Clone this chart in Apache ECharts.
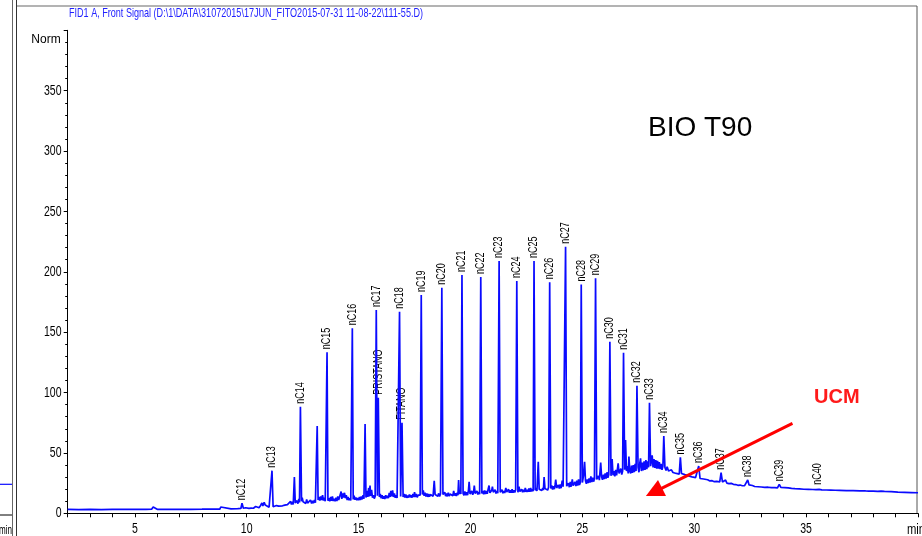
<!DOCTYPE html>
<html>
<head>
<meta charset="utf-8">
<script src="https://cdn.jsdelivr.net/npm/echarts@6/dist/echarts.min.js"></script>
<style>
html, body { margin: 0; padding: 0; background: #ffffff; }
#chart { width: 922px; height: 536px; }
</style>
</head>
<body>
<div id="chart"></div>
<script>
// Identified peaks: name, retention time (min), height (Norm)
const peakNames = ['nC12','nC13','nC14','nC15','nC16','nC17','PRISTANO','nC18','FITANO','nC19','nC20','nC21','nC22','nC23','nC24','nC25','nC26','nC27','nC28','nC29','nC30','nC31','nC32','nC33','nC34','nC35','nC36','nC37','nC38','nC39','nC40'];
const peakTimes = [9.79,11.13,12.40,13.59,14.72,15.79,15.88,16.83,16.94,17.80,18.72,19.62,20.46,21.28,22.07,22.84,23.54,24.25,24.95,25.59,26.23,26.84,27.44,28.00,28.64,29.38,30.20,31.20,32.39,33.80,35.51];
const peakHeights = [8.3,35.3,88.3,133.3,153.2,168.4,95.7,167,75,180.8,186.8,197.4,195.7,209,192.4,209,191.3,220.8,189.5,194.7,142.1,133,105.7,91.6,64,46.3,39.2,33.6,27.6,24,21.2];

// Detector signal before the alkane envelope: [time (min), Norm]
const signalEarly = [
  [2,3.2],[2.5,3.1],[3,3.2],[3.5,3.1],[4,3.3],[4.5,3.2],[5,3.2],[5.5,3.3],[5.75,3.4],[5.82,5.2],[5.88,3.6],[6,3.3],
  [6.5,3.2],[7,3.3],[7.5,3.3],[8,3.4],[8.3,3.5],[8.36,4.6],[8.42,3.5],[8.8,3.5],[8.84,5.2],[8.9,3.6],[9.3,3.6],[9.6,3.8],
  [9.74,4.0],[9.85,4.2],[9.95,4.6],[10.0,4.0],[10.1,4.1],[10.2,4.3],[10.3,4.2],[10.4,5.6],[10.45,4.4],[10.55,4.6],
  [10.62,6.5],[10.68,8.6],[10.72,6.0],[10.78,9.2],[10.83,6.8],[10.9,5.2],[11.0,5.0],[11.07,5.2],[11.18,5.4],[11.25,5.3],
  [11.33,6.4],[11.38,8.0],[11.43,6.0],[11.5,5.6],[11.6,6.2],[11.7,6.8],[11.75,6.0],[11.82,7.2],[11.9,6.6],[11.96,9.8]
];

// Detector signal across the resolved alkanes and the hump
const signalMain = [
  [12.0,7.2],[12.04,9.5],[12.08,7.4],[12.13,30],[12.17,8.6],[12.21,7.2],[12.25,10.5],[12.29,8],[12.33,12],[12.36,9],
  [12.45,10],[12.48,13],[12.52,9.5],[12.56,8],[12.6,10.5],[12.64,8.2],[12.68,11.5],[12.72,8.4],[12.76,10],[12.8,8],
  [12.85,11],[12.9,8.2],[12.94,10.4],[12.98,8.4],[13.03,11],[13.07,8.8],[13.11,10],[13.15,72.3],[13.19,11],[13.23,13.5],
  [13.27,10.5],[13.31,14],[13.35,11],[13.39,15],[13.43,10.5],[13.47,13],[13.51,10],[13.55,11.5],[13.63,10.5],[13.67,12.5],
  [13.71,10],[13.75,13.5],[13.79,10.4],[13.83,14],[13.87,10.2],[13.91,12],[13.95,10],[13.99,13],[14.03,10.2],[14.07,14],
  [14.11,11],[14.15,12.5],[14.19,11],[14.22,18],[14.25,12],[14.29,16.5],[14.33,13],[14.37,17],[14.41,12.5],[14.45,15],
  [14.49,11],[14.53,13.5],[14.57,10.8],[14.61,12.5],[14.65,10.6],[14.68,12],[14.76,11.5],[14.8,14.5],[14.84,11.2],[14.88,13],
  [14.92,10.8],[14.96,12.5],[15.0,10.8],[15.04,13.5],[15.08,11],[15.12,14],[15.16,11.5],[15.2,15],[15.24,12],[15.29,74],
  [15.33,13],[15.37,18.5],[15.41,13.5],[15.45,21],[15.48,14],[15.51,23],[15.54,14.5],[15.58,19.5],[15.62,13],[15.66,15],
  [15.7,12.2],[15.74,14],[15.84,14.5],[15.93,13.5],[15.97,16],[16.01,12.5],[16.05,15],[16.09,12],[16.13,14],[16.17,11.8],
  [16.21,15],[16.25,12.5],[16.29,14.6],[16.33,12.6],[16.37,17],[16.41,13.5],[16.44,18.5],[16.48,14],[16.52,19],[16.56,13.5],
  [16.6,16.5],[16.64,12.8],[16.68,15],[16.72,12.6],[16.76,14],[16.79,12.8],[16.88,14],[16.99,13.5],[17.03,16],[17.07,13],
  [17.11,15.5],[17.15,12.8],[17.19,14.8],[17.23,13],[17.27,15.5],[17.31,13.2],[17.35,15],[17.39,13],[17.43,16],[17.47,13.5],
  [17.5,17.5],[17.54,13.5],[17.58,16],[17.62,13.2],[17.66,15],[17.7,13.4],[17.75,15],[17.85,15.5],[17.89,19],[17.93,14.5],
  [17.97,17],[18.01,13.8],[18.05,16.5],[18.09,13.6],[18.13,16],[18.17,13.8],[18.21,15.5],[18.25,14],[18.29,17],[18.33,14.2],
  [18.38,27],[18.42,15.5],[18.46,14],[18.5,17],[18.54,14.2],[18.58,16.5],[18.62,14],[18.66,16],[18.77,15.5],[18.81,14],
  [18.85,17.5],[18.89,14.2],[18.93,16.5],[18.97,14],[19.01,17],[19.05,14.2],[19.09,16],[19.13,14.4],[19.17,17.5],[19.21,14.5],
  [19.25,18.5],[19.29,14.6],[19.33,16.5],[19.37,14.4],[19.41,17],[19.44,15],[19.47,27.6],[19.5,16],[19.54,19],[19.57,16],
  [19.67,16.5],[19.71,14.8],[19.75,18],[19.79,15],[19.83,17.5],[19.87,15],[19.91,19],[19.94,26],[19.98,16],[20.02,15.2],
  [20.06,18.5],[20.1,15.4],[20.14,17.5],[20.17,23],[20.21,16.5],[20.25,15.4],[20.29,18.5],[20.33,15.6],[20.37,17.5],[20.41,15.8],
  [20.51,16.5],[20.55,18.5],[20.59,15.8],[20.63,19],[20.67,16],[20.71,18.5],[20.75,16.2],[20.79,20],[20.83,23],[20.87,17],
  [20.91,16.2],[20.95,19],[20.98,22],[21.02,17.5],[21.06,16.2],[21.1,19.5],[21.14,16.4],[21.18,18.5],[21.22,16.6],[21.33,17.5],
  [21.37,16.2],[21.41,19.5],[21.45,16.6],[21.49,18.5],[21.53,16.8],[21.58,21],[21.62,17.5],[21.66,16.8],[21.7,20],[21.74,17],
  [21.78,19],[21.82,17],[21.86,20],[21.9,17],[21.94,19],[21.98,17.2],[22.02,19.5],[22.12,17.4],[22.17,22],[22.21,18],
  [22.25,17.2],[22.29,20],[22.33,17.4],[22.37,19.5],[22.41,17.6],[22.45,21],[22.49,17.8],[22.53,19.5],[22.57,17.8],[22.61,20.5],
  [22.65,17.8],[22.69,21],[22.73,18],[22.77,20],[22.8,18.2],[22.89,19],[22.93,21],[22.97,18.4],[23.03,42.7],[23.07,20],
  [23.11,18.6],[23.15,21.5],[23.19,18.8],[23.23,21],[23.26,19.2],[23.29,30],[23.33,20.5],[23.37,19],[23.41,22],[23.45,19.2],
  [23.49,21.5],[23.59,20.5],[23.63,23],[23.67,19.6],[23.71,22.5],[23.75,20],[23.78,23.5],[23.81,28],[23.85,21],[23.89,20],
  [23.93,23.5],[23.97,20.4],[24.01,24],[24.05,20.8],[24.1,27],[24.14,22],[24.18,20.8],[24.21,23],[24.3,22.5],[24.34,21.2],
  [24.38,25],[24.42,21.6],[24.46,26],[24.5,22],[24.55,28],[24.59,23],[24.63,22],[24.67,26],[24.71,22.6],[24.75,27],
  [24.79,23],[24.83,28],[24.87,23.4],[24.91,25.5],[25.0,25.5],[25.05,31],[25.1,42.7],[25.14,27],[25.18,24.5],[25.22,28],
  [25.26,25],[25.3,29],[25.34,25.4],[25.38,30.5],[25.42,25.8],[25.46,29.5],[25.5,26.2],[25.54,28.5],[25.64,28],[25.68,26.8],
  [25.72,31],[25.76,27.5],[25.82,42],[25.86,30],[25.9,27.8],[25.94,32],[25.98,28.4],[26.02,33],[26.06,28.8],[26.1,34],
  [26.14,29.5],[26.18,32],[26.28,31],[26.33,45],[26.37,31.5],[26.41,35],[26.45,30.5],[26.49,36],[26.53,31.5],[26.57,37],
  [26.6,41.4],[26.64,33],[26.68,31.5],[26.72,37],[26.76,32],[26.8,35],[26.89,36],[26.93,60.7],[26.97,35],[27.01,39],
  [27.05,33],[27.08,47],[27.12,35],[27.16,33],[27.2,39.5],[27.24,33.5],[27.28,40],[27.32,34],[27.36,41],[27.4,35],
  [27.49,38],[27.53,34],[27.57,42],[27.6,45.5],[27.64,35],[27.68,42],[27.72,35.5],[27.76,43],[27.8,36],[27.84,44],
  [27.88,36.5],[27.92,43],[27.96,38],[28.05,39],[28.09,44],[28.12,48],[28.16,38],[28.2,45],[28.24,37.5],[28.28,44],
  [28.32,37],[28.36,43.5],[28.4,37],[28.44,42.5],[28.48,36.5],[28.52,41],[28.56,36],[28.6,39],[28.69,38],[28.74,35.5],
  [28.79,38.6],[28.85,35],[28.92,34.5],[28.98,36]
];

// Detector signal on the tail of the hump
const signalLate = [
  [29.05,33.8],[29.12,34.5],[29.2,33],[29.27,34],[29.33,32.5],[29.43,33],[29.5,31.5],[29.58,32],[29.66,30.5],[29.75,31],
  [29.82,29.6],[29.9,30.2],[29.98,29.2],[30.06,29.6],[30.14,28.6],[30.26,28.8],[30.34,28],[30.42,28.4],[30.5,27.5],[30.6,27.8],
  [30.7,26.8],[30.8,27],[30.9,26.2],[31.0,26.4],[31.08,25.6],[31.14,26],[31.26,26],[31.32,25.2],[31.4,27.5],[31.46,25],
  [31.55,24.6],[31.65,24.8],[31.75,24],[31.85,23.8],[31.95,23.2],[32.05,23.4],[32.15,22.8],[32.25,22.9],[32.33,22.5],[32.45,23.5],
  [32.52,22.4],[32.6,23],[32.7,22.2],[32.85,22],[33.0,21.8],[33.15,21.5],[33.3,21.6],[33.45,21.2],[33.6,21.2],[33.72,21],
  [33.87,21.4],[33.95,21],[34.05,21.3],[34.12,22],[34.2,21],[34.35,20.6],[34.5,20.4],[34.7,20.2],[34.9,19.9],[35.1,19.8],
  [35.3,19.7],[35.44,19.6],[35.58,19.8],[35.7,19.4],[35.9,19.3],[36.1,19.2],[36.3,19.1],[36.5,19],[36.8,18.8],[37.1,18.7],
  [37.4,18.5],[37.55,18.6],[37.6,19.6],[37.66,18.5],[37.8,18.4],[38.0,18.3],[38.2,18.2],[38.35,18.4],[38.42,18.9],[38.5,18.2],
  [38.8,17.9],[39.1,17.6],[39.4,17.4],[39.7,17.2],[40,17]
];

const xTickLabels = [5, 10, 15, 20, 25, 30, 35];
const yTickLabels = [0, 50, 100, 150, 200, 250, 300, 350];

const titleText = 'FID1 A, Front Signal (D:\\1\\DATA\\31072015\\17JUN_FITO2015-07-31 11-08-22\\111-55.D)';
const sampleName = 'BIO T90';
const ucmText = 'UCM';
const unitText = 'min';

const sans = "'Liberation Sans', Arial, sans-serif";

// Full trace: background signal with the identified peak apexes merged in by time
const peakPoints = peakTimes.map((t, i) => [t, peakHeights[i]]);
const trace = signalEarly.concat(signalMain, signalLate, peakPoints).sort((a, b) => a[0] - b[0]);

const chart = echarts.init(document.getElementById('chart'), null, { renderer: 'canvas' });

chart.setOption({
  animation: false,
  backgroundColor: '#ffffff',
  grid: { left: 67.7, right: 4, top: 30.3, bottom: 22.7, containLabel: false },
  xAxis: {
    type: 'value',
    min: 2,
    max: 40,
    interval: 1,
    axisLine: { lineStyle: { color: '#000', width: 1 } },
    axisTick: { show: true, length: 4, lineStyle: { color: '#000' } },
    axisLabel: { show: false },
    splitLine: { show: false }
  },
  yAxis: {
    type: 'value',
    min: 0,
    max: 400,
    interval: 50,
    name: 'Norm',
    nameLocation: 'end',
    nameGap: -9,
    nameTextStyle: { color: '#000', fontFamily: sans, fontSize: 12, align: 'right', verticalAlign: 'middle', padding: [0, 7, 0, 0] },
    axisLine: { show: true, lineStyle: { color: '#000', width: 1 } },
    axisTick: { show: true, length: 4, lineStyle: { color: '#000' } },
    minorTick: { show: true, splitNumber: 5, length: 2.5, lineStyle: { color: '#000' } },
    axisLabel: { show: false },
    splitLine: { show: false }
  },
  series: [
    {
      type: 'line',
      data: trace,
      showSymbol: false,
      symbol: 'none',
      silent: true,
      lineStyle: { color: '#0a0aff', width: 1.7 },
      markLine: {
        silent: true,
        symbol: ['none', 'triangle'],
        symbolSize: 18,
        label: { show: false },
        lineStyle: { color: '#ff0000', width: 3, type: 'solid' },
        data: [[{ coord: [34.39, 74.5] }, { coord: [28.2, 17.6] }]]
      }
    }
  ]
});

// Condensed chromatography-software lettering: regular face squeezed horizontally
const measureCtx = document.createElement('canvas').getContext('2d');
function textWidth(text, size) {
  measureCtx.font = size + "px 'Liberation Sans'";
  return measureCtx.measureText(text).width;
}

const graphics = [
  // frame of the plot panel
  { type: 'line', shape: { x1: 17, y1: 6, x2: 917, y2: 6 }, style: { stroke: '#9a9a9a', lineWidth: 1.5 } },
  { type: 'line', shape: { x1: 917, y1: 6, x2: 917, y2: 514 }, style: { stroke: '#555', lineWidth: 1 } },
  { type: 'line', shape: { x1: 16.5, y1: 0, x2: 16.5, y2: 536 }, style: { stroke: '#333', lineWidth: 1 } },
  // edge of the neighbouring panel
  { type: 'line', shape: { x1: 12.5, y1: 0, x2: 12.5, y2: 536 }, style: { stroke: '#666', lineWidth: 1 } },
  { type: 'line', shape: { x1: 0, y1: 484.3, x2: 12, y2: 484.3 }, style: { stroke: '#0a0aff', lineWidth: 1.2 } },
  { type: 'line', shape: { x1: 0, y1: 515, x2: 12, y2: 515 }, style: { stroke: '#000', lineWidth: 1 } },
  { type: 'text', x: 12, y: 530, scaleX: 0.62, style: { text: unitText, fontFamily: sans, fontSize: 13, fill: '#000', align: 'right', verticalAlign: 'middle' } },
  // signal description
  { type: 'text', x: 69, y: 13.5, scaleX: 354 / textWidth(titleText, 13),
    style: { text: titleText, fontFamily: sans, fontSize: 13, fill: '#2222ff', align: 'left', verticalAlign: 'middle' } },
  // time unit at the end of the axis
  { type: 'text', x: 907, y: 530, scaleX: 0.75, style: { text: unitText, fontFamily: sans, fontSize: 15, fill: '#000', align: 'left', verticalAlign: 'middle' } },
  // sample name and UCM annotation
  { type: 'text', x: 648, y: 128, style: { text: sampleName, fontFamily: sans, fontSize: 28, fill: '#000', align: 'left', verticalAlign: 'middle' } },
  { type: 'text', x: 814, y: 397, style: { text: ucmText, fontFamily: sans, fontSize: 20, fontWeight: 'bold', fill: '#ff1a1a', align: 'left', verticalAlign: 'middle' } }
];

// Tick labels placed through the axis scales
xTickLabels.forEach(v => {
  const px = chart.convertToPixel({ xAxisIndex: 0 }, v);
  graphics.push({ type: 'text', x: px, y: 529, scaleX: 0.7,
    style: { text: String(v), fontFamily: sans, fontSize: 15, fill: '#000', align: 'center', verticalAlign: 'middle' } });
});
yTickLabels.forEach(v => {
  const py = chart.convertToPixel({ yAxisIndex: 0 }, v);
  graphics.push({ type: 'text', x: 61.5, y: py, scaleX: 0.7,
    style: { text: String(v), fontFamily: sans, fontSize: 15, fill: '#000', align: 'right', verticalAlign: 'middle' } });
});

// Peak names written upwards just above each apex
peakNames.forEach((name, i) => {
  const p = chart.convertToPixel({ gridIndex: 0 }, [peakTimes[i], peakHeights[i]]);
  graphics.push({ type: 'text', x: p[0], y: p[1] - 3, rotation: Math.PI / 2, scaleX: 0.75,
    style: { text: name, fontFamily: sans, fontSize: 12, fill: '#000', align: 'left', verticalAlign: 'middle' } });
});

chart.setOption({ graphic: graphics });
</script>
</body>
</html>
